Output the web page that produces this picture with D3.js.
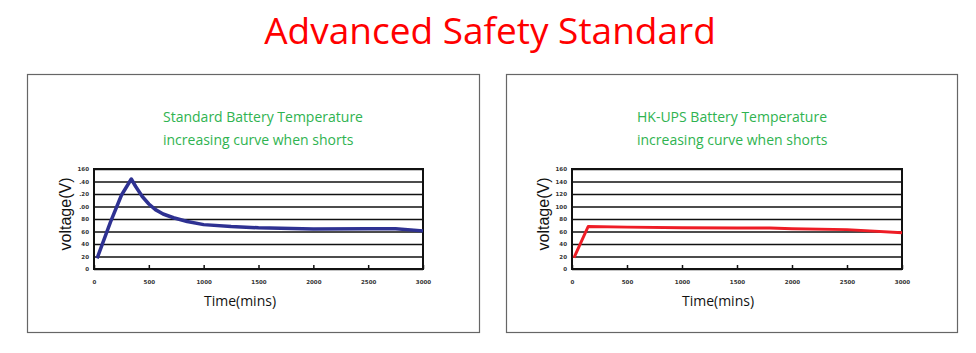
<!DOCTYPE html>
<html>
<head>
<meta charset="utf-8">
<script src="https://cdn.jsdelivr.net/npm/d3@7"></script>
<style>
  html, body { margin: 0; padding: 0; background: #fff; }
  svg { display: block; }
</style>
</head>
<body>
<div id="chart"></div>
<script>
// data
const pageTitle = 'Advanced Safety Standard';
const yTicks = [0, 20, 40, 60, 80, 100, 120, 140, 160];
const xTicks = [0, 500, 1000, 1500, 2000, 2500, 3000];
// left chart's labels are clipped in the original image
const leftYLabels = ['0', '20', '40', '60', '80', '.00', '.20', '.40', '160'];
const rightYLabels = ['0', '20', '40', '60', '80', '100', '120', '140', '160'];

const standardTime = [28, 150, 250, 340, 380, 440, 500, 560, 630, 725, 850, 1000, 1250, 1500, 2000, 2500, 2750, 3000];
const standardVolt = [17, 75, 118, 144, 132, 116, 104, 95, 88, 82, 76, 71, 68, 66, 64, 64.5, 64.5, 61];

const hkTime = [18, 147, 500, 1000, 1500, 1800, 2000, 2500, 3000];
const hkVolt = [18, 68, 67, 66, 65.5, 65.5, 64.5, 63, 58];

const panels = [
  {
    box: { x: 27, y: 74, w: 452, h: 258 },
    plot: { x: 94, y: 169, w: 329, h: 100 },
    subtitle: ['Standard Battery Temperature', 'increasing curve when shorts'],
    subX: 163,
    yLabels: leftYLabels,
    time: standardTime,
    volt: standardVolt,
    color: '#2e3192',
    width: 3.5
  },
  {
    box: { x: 506, y: 74, w: 451, h: 258 },
    plot: { x: 572, y: 169, w: 330, h: 100 },
    subtitle: ['HK-UPS Battery Temperature', 'increasing curve when shorts'],
    subX: 637,
    yLabels: rightYLabels,
    time: hkTime,
    volt: hkVolt,
    color: '#ee1c25',
    width: 3
  }
];

const svgWidth = 976;
const svgHeight = 353;

const svg = d3.select('#chart').append('svg')
  .attr('width', svgWidth)
  .attr('height', svgHeight);

svg.append('text')
  .attr('x', 490)
  .attr('y', 44)
  .attr('text-anchor', 'middle')
  .attr('font-family', 'Open Sans, Noto Sans, sans-serif')
  .attr('font-size', '37px')
  .attr('fill', '#ff0000')
  .text(pageTitle);

panels.forEach(p => {
  const g = svg.append('g');

  g.append('rect')
    .attr('x', p.box.x + 0.5)
    .attr('y', p.box.y + 0.5)
    .attr('width', p.box.w)
    .attr('height', p.box.h)
    .attr('fill', 'none')
    .attr('stroke', '#666')
    .attr('stroke-width', 1.2);

  g.selectAll('.sub')
    .data(p.subtitle)
    .join('text')
    .attr('class', 'sub')
    .attr('x', p.subX)
    .attr('y', (d, i) => 122 + i * 23)
    .attr('font-family', 'Open Sans, Noto Sans, sans-serif')
    .attr('font-size', '14px')
    .attr('fill', '#2fb350')
    .text(d => d);

  const x = d3.scaleLinear().domain([0, 3000]).range([p.plot.x, p.plot.x + p.plot.w]);
  const y = d3.scaleLinear().domain([0, 160]).range([p.plot.y + p.plot.h, p.plot.y]);

  // horizontal grid
  g.append('g')
    .attr('transform', `translate(${p.plot.x},0)`)
    .call(d3.axisLeft(y).tickValues(yTicks).tickSize(-p.plot.w).tickFormat(''))
    .call(a => a.select('.domain').remove())
    .call(a => a.selectAll('.tick line').attr('stroke', '#111').attr('stroke-width', 1.6));

  // y labels
  g.append('g')
    .attr('transform', `translate(${p.plot.x},0)`)
    .call(d3.axisLeft(y).tickValues(yTicks).tickSize(0).tickPadding(5).tickFormat((d, i) => p.yLabels[i]))
    .call(a => a.select('.domain').remove())
    .call(a => a.selectAll('text')
      .attr('font-family', 'DejaVu Sans, sans-serif')
      .attr('font-weight', 'bold')
      .attr('font-size', '5.5px')
      .attr('fill', '#333'));

  // x axis, ticks pointing up into the plot
  g.append('g')
    .attr('transform', `translate(0,${p.plot.y + p.plot.h})`)
    .call(d3.axisBottom(x).tickValues(xTicks).tickSize(-4).tickPadding(11).tickFormat(d3.format('d')))
    .call(a => a.select('.domain').remove())
    .call(a => a.selectAll('.tick line').attr('stroke', '#111').attr('stroke-width', 1.5))
    .call(a => a.selectAll('text')
      .attr('font-family', 'DejaVu Sans, sans-serif')
      .attr('font-weight', 'bold')
      .attr('font-size', '5.5px')
      .attr('fill', '#333'));

  // frame
  g.append('rect')
    .attr('x', p.plot.x)
    .attr('y', p.plot.y)
    .attr('width', p.plot.w)
    .attr('height', p.plot.h)
    .attr('fill', 'none')
    .attr('stroke', '#111')
    .attr('stroke-width', 2);

  const pts = p.time.map((t, i) => [t, p.volt[i]]);
  const line = d3.line()
    .x(d => x(d[0]))
    .y(d => y(d[1]));

  g.append('path')
    .datum(pts)
    .attr('d', line)
    .attr('fill', 'none')
    .attr('stroke', p.color)
    .attr('stroke-width', p.width)
    .attr('stroke-linejoin', 'round');

  g.append('text')
    .attr('transform', `translate(${p.plot.x - 23},${p.plot.y + 45}) rotate(-90)`)
    .attr('text-anchor', 'middle')
    .attr('font-family', 'Liberation Sans, Arial, sans-serif')
    .attr('font-size', '16px')
    .attr('fill', '#111')
    .text('voltage(V)');

  g.append('text')
    .attr('x', p.plot.x + 146)
    .attr('y', 306)
    .attr('text-anchor', 'middle')
    .attr('font-family', 'Open Sans, Noto Sans, sans-serif')
    .attr('font-size', '14px')
    .attr('fill', '#111')
    .text('Time(mins)');
});
</script>
</body>
</html>
